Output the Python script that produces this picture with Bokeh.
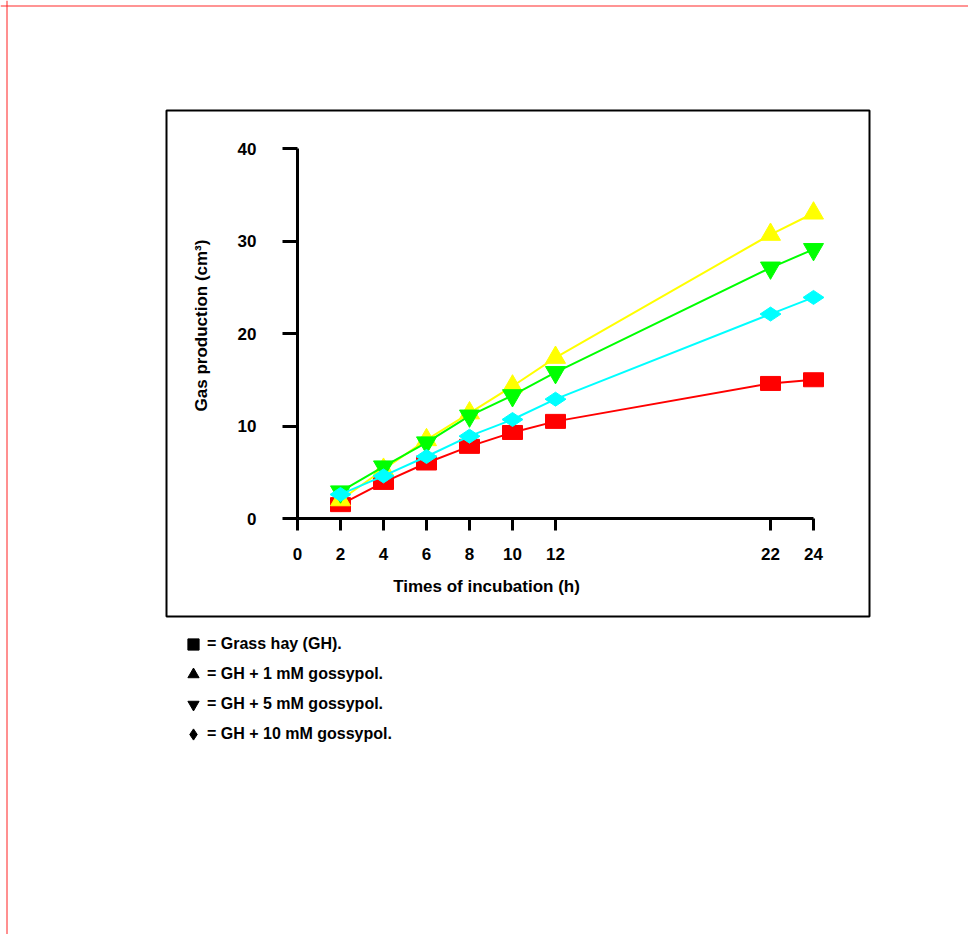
import math
from bokeh.plotting import figure
from bokeh.models import (Range1d, FixedTicker, Label, Span, BoxAnnotation,
                          Legend, LegendItem)
from bokeh.embed import file_html
from bokeh.resources import INLINE

# ---------------- data ----------------
hours = [2, 4, 6, 8, 10, 12, 22, 24]
grass_hay = [1.5, 3.9, 6.0, 7.8, 9.3, 10.5, 14.6, 15.0]
gh_1mM = [2.0, 5.3, 8.5, 11.4, 14.3, 17.4, 30.7, 33.0]
gh_5mM = [2.9, 5.6, 8.2, 11.1, 13.3, 15.8, 27.1, 29.1]
gh_10mM = [2.6, 4.6, 6.7, 8.9, 10.7, 12.9, 22.1, 23.9]

x_ticks = [0, 2, 4, 6, 8, 10, 12, 22, 24]
y_ticks = [0, 10, 20, 30, 40]

x_title = "Times of incubation (h)"
y_title = "Gas production (cm³)"
legend_labels = ["= Grass hay (GH).", "= GH + 1 mM gossypol.",
                 "= GH + 5 mM gossypol.", "= GH + 10 mM gossypol."]

# ---------------- layout helpers (page pixels -> data) ----------------
W, H = 968, 934
ORIGIN = 0                         # page position of the canvas corner
X0_PX, X_SCALE = 297.0, 21.5      # page x of hour 0, px per hour
Y0_PX, Y_SCALE = 518.0, 9.25      # page y of value 0, px per unit


def xd(px):
    return (px - X0_PX) / X_SCALE


def yd(py):
    return (Y0_PX - py) / Y_SCALE


FONT = "Liberation Sans"

p = figure(width=W, height=H, output_backend="svg", toolbar_location=None,
           x_range=Range1d(xd(ORIGIN), xd(ORIGIN + W)),
           y_range=Range1d(yd(ORIGIN + H), yd(ORIGIN)),
           min_border=0, outline_line_color=None)
p.xgrid.visible = False
p.ygrid.visible = False

# axes pinned inside the plot area
for ax, ticks, bounds, tick_out, standoff in (
        (p.xaxis, x_ticks, (0, 24), 12, 17),
        (p.yaxis, y_ticks, (0, 40), 15, 26)):
    ax.fixed_location = 0
    ax.bounds = bounds
    ax.ticker = FixedTicker(ticks=ticks)
    ax.axis_line_width = 3
    ax.axis_line_color = "black"
    ax.major_tick_line_width = 3
    ax.major_tick_line_color = "black"
    ax.major_tick_in = 0
    ax.major_tick_out = tick_out
    ax.minor_tick_line_color = None
    ax.major_label_standoff = standoff
    ax.major_label_text_font = FONT
    ax.major_label_text_font_style = "bold"
    ax.major_label_text_font_size = "17px"
    ax.major_label_text_color = "black"

# series
p.line(hours, grass_hay, line_color="#ff0000", line_width=2)
p.rect(hours, grass_hay, width=20, height=14, width_units="screen",
       height_units="screen", fill_color="#ff0000", line_color="#ff0000")

p.line(hours, gh_1mM, line_color="#ffff00", line_width=2)
p.scatter(hours, gh_1mM, marker="triangle", size=20, fill_color="#ffff00",
          line_color="#ffff00")

p.line(hours, gh_5mM, line_color="#00ff00", line_width=2)
p.scatter(hours, gh_5mM, marker="inverted_triangle", size=20,
          fill_color="#00ff00", line_color="#00ff00")

p.line(hours, gh_10mM, line_color="#00ffff", line_width=2)
p.scatter(hours, gh_10mM, marker="diamond", size=21, angle=math.pi / 2,
          fill_color="#00ffff", line_color="#00ffff")

# axis titles
p.add_layout(Label(x=xd(486), y=yd(586), text=x_title, text_align="center",
                   text_baseline="middle", text_font=FONT,
                   text_font_style="bold", text_font_size="17px",
                   text_color="black"))
p.add_layout(Label(x=xd(201), y=yd(325), text=y_title, angle=math.pi / 2,
                   text_align="center", text_baseline="middle",
                   text_font=FONT, text_font_style="bold",
                   text_font_size="17px", text_color="black"))

# chart frame box and page rules
p.add_layout(BoxAnnotation(left=xd(166), right=xd(869), top=yd(110),
                           bottom=yd(616), fill_color=None, fill_alpha=0,
                           line_color="black", line_alpha=1, line_width=2))
p.add_layout(Span(location=yd(5.5), dimension="width", line_color="#ff7070",
                  line_width=1.5))
p.add_layout(Span(location=xd(6.5), dimension="height", line_color="#ff2020",
                  line_width=1))

# legend with black symbols
nan = float("nan")
markers = [("square", 0), ("triangle", 0), ("inverted_triangle", 0),
           ("diamond", math.pi / 2)]
items = []
for (mk, ang), lab in zip(markers, legend_labels):
    r = p.scatter(x=[nan], y=[nan], marker=mk, angle=ang, size=12,
                  fill_color="black", line_color="black")
    items.append(LegendItem(label=lab, renderers=[r], index=0))
legend = Legend(items=items, location=(179 - ORIGIN, ORIGIN + H - 749),
                glyph_width=28, glyph_height=30, label_standoff=0, spacing=0,
                padding=0, margin=0, border_line_color=None,
                background_fill_alpha=0, label_text_font=FONT,
                label_text_font_style="bold", label_text_font_size="16px",
                label_text_color="black")
p.add_layout(legend)

open("out.html", "w").write(file_html(p, INLINE))
